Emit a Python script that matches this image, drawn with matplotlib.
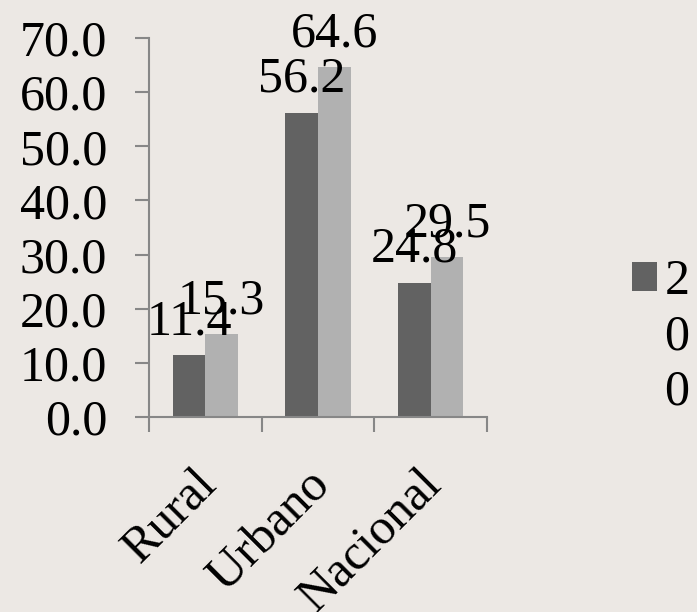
import matplotlib.pyplot as plt
from matplotlib.transforms import ScaledTranslation
import numpy as np

# Chart values
categories = ["Rural", "Urbano", "Nacional"]
serie_a = [11.4, 56.2, 24.8]
serie_b = [15.3, 64.6, 29.5]
# legend label is cut to one char per line in the original ("2", "0", "0")
legend_lines = ["2", "0", "0"]

bg = "#ECE8E4"
dark = "#626262"
light = "#B1B1B1"
axis_gray = "#878787"

plt.rcParams['font.family'] = ['Liberation Serif', 'DejaVu Serif']

fig = plt.figure(figsize=(6.97, 6.12), dpi=100, facecolor=bg)
ax = fig.add_axes([0.2138, 0.3186, 0.4849, 0.6193], facecolor=bg)

x = np.arange(len(categories))
w = 0.29
b1 = ax.bar(x - w / 2, serie_a, w, color=dark, label=legend_lines[0])
b2 = ax.bar(x + w / 2, serie_b, w, color=light)

for bars, vals in ((b1, serie_a), (b2, serie_b)):
    for r, v in zip(bars, vals):
        ax.annotate(f"{v:.1f}", (r.get_x() + r.get_width() / 2, v),
                    xytext=(0, 15), textcoords="offset points",
                    ha="center", va="baseline", fontsize=36,
                    annotation_clip=False)

ax.set_xlim(-0.5, 2.5)
ax.set_ylim(0, 70)
ax.set_yticks(np.arange(0, 71, 10))
ax.set_yticklabels([f"{t:.1f}" for t in np.arange(0, 71, 10)], fontsize=36)
ax.tick_params(axis='y', length=10, width=1.5, color=axis_gray, pad=20)

ax.set_xticks(x)
ax.set_xticklabels(categories, fontsize=36, rotation=45, ha='right',
                   rotation_mode='anchor')
ax.tick_params(axis='x', which='major', length=0, pad=32)
shift = ScaledTranslation(-12 / 100, 0, fig.dpi_scale_trans)
for lab in ax.get_xticklabels():
    lab.set_transform(lab.get_transform() + shift)
ax.set_xticks([-0.5, 0.5, 1.5, 2.5], minor=True)
ax.tick_params(axis='x', which='minor', length=11, width=1.5, color=axis_gray)

for s in ('top', 'right'):
    ax.spines[s].set_visible(False)
for s in ('left', 'bottom'):
    ax.spines[s].set_color(axis_gray)
    ax.spines[s].set_linewidth(1.5)

leg = fig.legend(loc='center left', bbox_to_anchor=(0.878, 0.539), frameon=False,
                 fontsize=36, handlelength=0.5, handleheight=0.5,
                 handletextpad=0.15, borderaxespad=0)

# remaining wrapped characters of the legend label, under the first one
fig.canvas.draw()
bb = leg.get_texts()[0].get_window_extent()
xc = (bb.x0 + bb.x1) / 2 / fig.bbox.width
step = 55
for k, ch in enumerate(legend_lines[1:], start=1):
    fig.text(xc, (bb.y0 - step * k) / fig.bbox.height, ch,
             ha='center', va='bottom', fontsize=36)

fig.savefig("out.png", dpi=100, facecolor=bg)
